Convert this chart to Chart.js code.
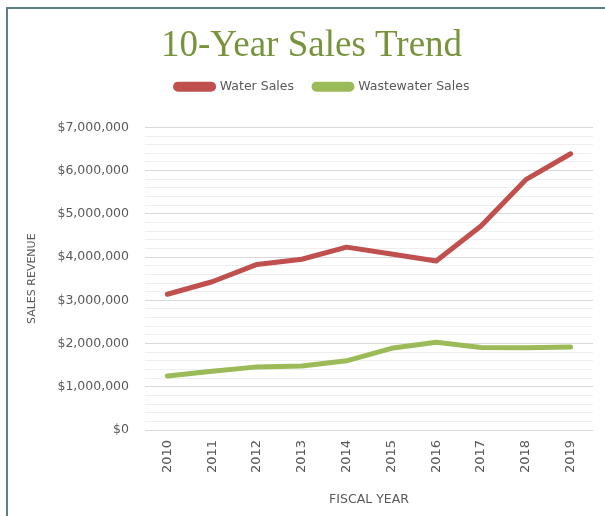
<!DOCTYPE html>
<html>
<head>
<meta charset="utf-8">
<script src="https://cdn.jsdelivr.net/npm/chart.js@4"></script>
<style>
  html, body { margin: 0; padding: 0; background: #ffffff; }
  #wrap { position: relative; width: 605px; height: 516px; overflow: hidden; }
  #frame { position: absolute; left: 6px; top: 7px; width: 610px; height: 520px;
           border-left: 2px solid #5e7f86; border-top: 2px solid #5e7f86; box-sizing: border-box; }
  #chart { position: absolute; left: 0; top: 0; }
</style>
</head>
<body>
<div id="wrap">
  <div id="frame"></div>
  <canvas id="chart" width="605" height="516"></canvas>
</div>
<script>
// Fiscal years on the category axis
const years = ['2010', '2011', '2012', '2013', '2014', '2015', '2016', '2017', '2018', '2019'];

// Annual sales revenue in dollars
const waterSales = [3140000, 3430000, 3830000, 3950000, 4230000, 4070000, 3910000, 4720000, 5790000, 6390000];
const wastewaterSales = [1250000, 1360000, 1460000, 1480000, 1600000, 1890000, 2030000, 1910000, 1900000, 1920000];

// Revenue axis: labelled every $1,000,000, minor gridlines every $200,000
const revenueMin = 0;
const revenueMax = 7000000;
const revenueMinorStep = 200000;
const revenueMajorStep = 1000000;

const seriesNames = ['Water Sales', 'Wastewater Sales'];
const titleText = '10-Year Sales Trend';
const yTitle = 'SALES REVENUE';
const xTitle = 'FISCAL YEAR';

const textGray = '#595959';
const sansFont = 'DejaVu Sans, sans-serif';

// Legend block: fixed height so the plot area starts below it,
// then nudged right/up after layout to sit under the title
const headerPlacement = {
  id: 'headerPlacement',
  beforeInit(chart) {
    const legend = chart.legend;
    const origFit = legend.fit;
    legend.fit = function () {
      origFit.call(this);
      this.height = 55;
    };
  },
  afterLayout(chart) {
    const lg = chart.legend;
    lg.left += 13; lg.right += 13;
    lg.top -= 12; lg.bottom -= 12;
    const tb = chart.titleBlock;
    if (tb) { tb.left += 2; tb.right += 2; }
  }
};

const fmtDollars = v => '$' + Math.round(v).toLocaleString('en-US');

new Chart(document.getElementById('chart'), {
  type: 'line',
  data: {
    labels: years,
    datasets: [
      {
        label: seriesNames[0],
        data: waterSales,
        borderColor: '#c0504d',
        backgroundColor: '#c0504d',
        borderWidth: 5,
        pointRadius: 0,
        tension: 0,
        borderCapStyle: 'round',
        borderJoinStyle: 'round'
      },
      {
        label: seriesNames[1],
        data: wastewaterSales,
        borderColor: '#9bbb59',
        backgroundColor: '#9bbb59',
        borderWidth: 5,
        pointRadius: 0,
        tension: 0,
        borderCapStyle: 'round',
        borderJoinStyle: 'round'
      }
    ]
  },
  options: {
    responsive: false,
    animation: false,
    devicePixelRatio: 1,
    layout: { padding: { top: 24, left: 26, right: 12, bottom: 6 } },
    plugins: {
      tooltip: { enabled: false },
      title: {
        display: true,
        text: titleText,
        color: '#77933c',
        font: { family: 'Liberation Serif, serif', size: 37, weight: 'normal' },
        padding: { top: 0, bottom: 4 }
      },
      legend: {
        display: true,
        position: 'top',
        labels: {
          boxWidth: 38,
          boxHeight: 5,
          useBorderRadius: true,
          borderRadius: 2.5,
          padding: 20,
          color: textGray,
          font: { family: sansFont, size: 12.5 }
        }
      }
    },
    scales: {
      x: {
        type: 'category',
        offset: true,
        grid: { display: false, drawTicks: false },
        border: { display: false },
        ticks: {
          color: textGray,
          font: { family: sansFont, size: 13 },
          minRotation: 90,
          maxRotation: 90,
          padding: 10,
          autoSkip: false
        },
        title: {
          display: true,
          text: xTitle,
          color: textGray,
          font: { family: sansFont, size: 12.5 },
          padding: { top: 3, bottom: 3 }
        },
        afterFit(scale) { scale.height = 80; }
      },
      y: {
        min: revenueMin,
        max: revenueMax,
        grid: {
          drawTicks: false,
          lineWidth: 1,
          color: ctx => (ctx.tick && ctx.tick.value % revenueMajorStep === 0) ? '#d9d9d9' : '#eeeeee'
        },
        border: { display: false },
        ticks: {
          stepSize: revenueMinorStep,
          autoSkip: false,
          padding: 16,
          color: textGray,
          font: { family: sansFont, size: 12.5 },
          callback: v => (v % revenueMajorStep === 0) ? fmtDollars(v) : ''
        },
        title: {
          display: true,
          text: yTitle,
          color: textGray,
          font: { family: sansFont, size: 11 },
          padding: { top: 0, bottom: 0 }
        },
        afterFit(scale) { scale.width = 119; }
      }
    }
  },
  plugins: [headerPlacement]
});
</script>
</body>
</html>
